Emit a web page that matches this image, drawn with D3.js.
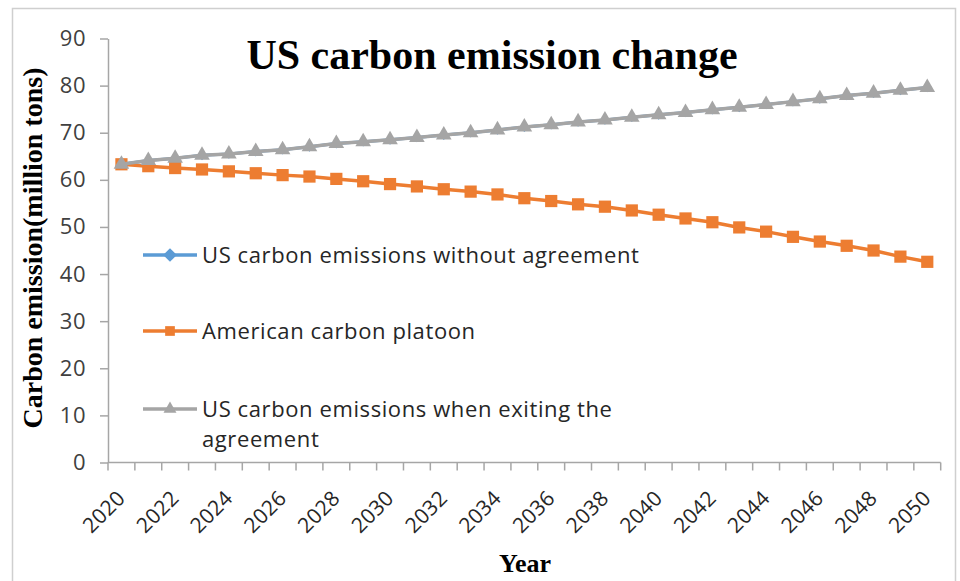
<!DOCTYPE html>
<html>
<head>
<meta charset="utf-8">
<script src="https://cdn.jsdelivr.net/npm/d3@7/dist/d3.min.js"></script>
<style>
  html, body { margin: 0; padding: 0; background: #fff; }
  svg { display: block; }
</style>
</head>
<body>
<svg id="chart" width="960" height="581"></svg>
<script>
// Years on the category axis
const years = d3.range(2020, 2051);

// Emission series (million tons)
const withoutAgreement = [63.3, 64.1, 64.6, 65.2, 65.5, 66.0, 66.4, 67.0, 67.7, 68.1, 68.5,
  69.0, 69.5, 70.0, 70.6, 71.2, 71.7, 72.3, 72.7, 73.3, 73.8, 74.3, 74.9, 75.4, 76.0, 76.6,
  77.2, 77.9, 78.4, 79.0, 79.6];
const carbonPlatoon = [63.3, 62.9, 62.5, 62.2, 61.8, 61.4, 61.0, 60.7, 60.2, 59.7, 59.1,
  58.6, 58.0, 57.5, 56.9, 56.1, 55.5, 54.8, 54.3, 53.5, 52.6, 51.8, 51.0, 49.9, 49.0, 47.9,
  46.9, 46.0, 45.0, 43.7, 42.6];
const exitingAgreement = [63.3, 64.1, 64.6, 65.2, 65.5, 66.0, 66.4, 67.0, 67.7, 68.1, 68.5,
  69.0, 69.5, 70.0, 70.6, 71.2, 71.7, 72.3, 72.7, 73.3, 73.8, 74.3, 74.9, 75.4, 76.0, 76.6,
  77.2, 77.9, 78.4, 79.0, 79.6];

// Axis ticks
const yTicks = [0, 10, 20, 30, 40, 50, 60, 70, 80, 90];
const xTickLabels = d3.range(2020, 2051, 2);

const seriesNames = [
  "US carbon emissions without agreement",
  "American carbon platoon",
  "US carbon emissions when exiting the agreement"
];

const series = [
  { name: seriesNames[0], values: withoutAgreement, color: "#5B9BD5", marker: d3.symbolDiamond2, size: 60, width: 3 },
  { name: seriesNames[1], values: carbonPlatoon, color: "#ED7D31", marker: d3.symbolSquare2, size: 190, width: 3.5 },
  { name: seriesNames[2], values: exitingAgreement, color: "#A5A5A5", marker: d3.symbolTriangle2, size: 175, width: 3.5 }
];

const svg = d3.select("#chart");
const plot = { left: 108, right: 940.7, top: 38.5, bottom: 462.5 };
const axisColor = "#a6a6a6";
const labelFont = "'Open Sans', Lato, sans-serif";
const serifFont = "'Liberation Serif', 'Times New Roman', serif";

// Outer frame
svg.append("rect")
  .attr("x", 12.5).attr("y", 8.5)
  .attr("width", 943).attr("height", 600)
  .attr("fill", "none").attr("stroke", "#cfcfcf").attr("stroke-width", 1.5);

const x = d3.scaleBand().domain(years).range([plot.left, plot.right]).padding(0);
const y = d3.scaleLinear().domain([0, 90]).range([plot.bottom, plot.top]);
const cx = d => x(d) + x.bandwidth() / 2;

// Y axis
const yAxis = svg.append("g")
  .attr("transform", `translate(${plot.left},0)`)
  .call(d3.axisLeft(y).tickValues(yTicks).tickSize(8).tickPadding(14).tickSizeOuter(0));
yAxis.select(".domain").attr("stroke", axisColor).attr("stroke-width", 1.5);
yAxis.selectAll(".tick line").attr("stroke", axisColor).attr("stroke-width", 1.5);
yAxis.selectAll(".tick text")
  .attr("font-family", labelFont).attr("font-size", 22).attr("letter-spacing", 0.5)
  .attr("fill", "#404040");

// X axis: ticks sit on category boundaries, labels on every other year
const xAxis = svg.append("g").attr("transform", `translate(0,${plot.bottom})`);
xAxis.append("line")
  .attr("x1", plot.left).attr("x2", plot.right)
  .attr("stroke", axisColor).attr("stroke-width", 1.5);
const boundaries = years.map(d => x(d)).concat([plot.right]);
xAxis.selectAll("line.tk").data(boundaries).join("line")
  .attr("class", "tk")
  .attr("x1", d => d).attr("x2", d => d)
  .attr("y1", 0).attr("y2", 8)
  .attr("stroke", axisColor).attr("stroke-width", 1.5);
xAxis.selectAll("text.lbl").data(xTickLabels).join("text")
  .attr("class", "lbl")
  .attr("transform", d => `translate(${cx(d) + 5},${37}) rotate(-45)`)
  .attr("text-anchor", "end")
  .attr("font-family", labelFont).attr("font-size", 21).attr("letter-spacing", 0.3)
  .attr("fill", "#262626")
  .text(d => d);

// Lines and markers
const line = d3.line().x((v, i) => cx(years[i])).y(v => y(v));
series.forEach(s => {
  const g = svg.append("g");
  g.append("path")
    .datum(s.values)
    .attr("d", line)
    .attr("fill", "none").attr("stroke", s.color).attr("stroke-width", s.width);
  g.selectAll("path.mk").data(s.values).join("path")
    .attr("class", "mk")
    .attr("transform", (v, i) => `translate(${cx(years[i])},${y(v)})`)
    .attr("d", d3.symbol(s.marker, s.size))
    .attr("fill", s.color);
});

// Legend
const legendRows = [
  { s: series[0], y: 255, lines: ["US carbon emissions without agreement"] },
  { s: series[1], y: 331, lines: ["American carbon platoon"] },
  { s: series[2], y: 409, lines: ["US carbon emissions when exiting the", "agreement"] }
];
const legend = svg.append("g");
legendRows.forEach(r => {
  legend.append("line")
    .attr("x1", 143).attr("x2", 197).attr("y1", r.y).attr("y2", r.y)
    .attr("stroke", r.s.color).attr("stroke-width", 3.5);
  legend.append("path")
    .attr("transform", `translate(170,${r.y})`)
    .attr("d", d3.symbol(r.s.marker, 120))
    .attr("fill", r.s.color);
  const t = legend.append("text")
    .attr("x", 202).attr("y", r.y + 7.5)
    .attr("font-family", labelFont).attr("font-size", 22).attr("letter-spacing", 0.6)
    .attr("fill", "#262626");
  r.lines.forEach((ln, i) => {
    t.append("tspan").attr("x", 202).attr("dy", i === 0 ? 0 : 30).text(ln);
  });
});

// Titles
svg.append("text")
  .attr("x", 492).attr("y", 69)
  .attr("text-anchor", "middle")
  .attr("font-family", serifFont).attr("font-weight", "bold").attr("font-size", 42)
  .attr("fill", "#000")
  .text("US carbon emission change");

svg.append("text")
  .attr("transform", "translate(42,248) rotate(-90)")
  .attr("text-anchor", "middle")
  .attr("font-family", serifFont).attr("font-weight", "bold").attr("font-size", 28)
  .attr("fill", "#000")
  .text("Carbon emission(million tons)");

svg.append("text")
  .attr("x", 525).attr("y", 572)
  .attr("text-anchor", "middle")
  .attr("font-family", serifFont).attr("font-weight", "bold").attr("font-size", 26)
  .attr("fill", "#000")
  .text("Year");
</script>
</body>
</html>
